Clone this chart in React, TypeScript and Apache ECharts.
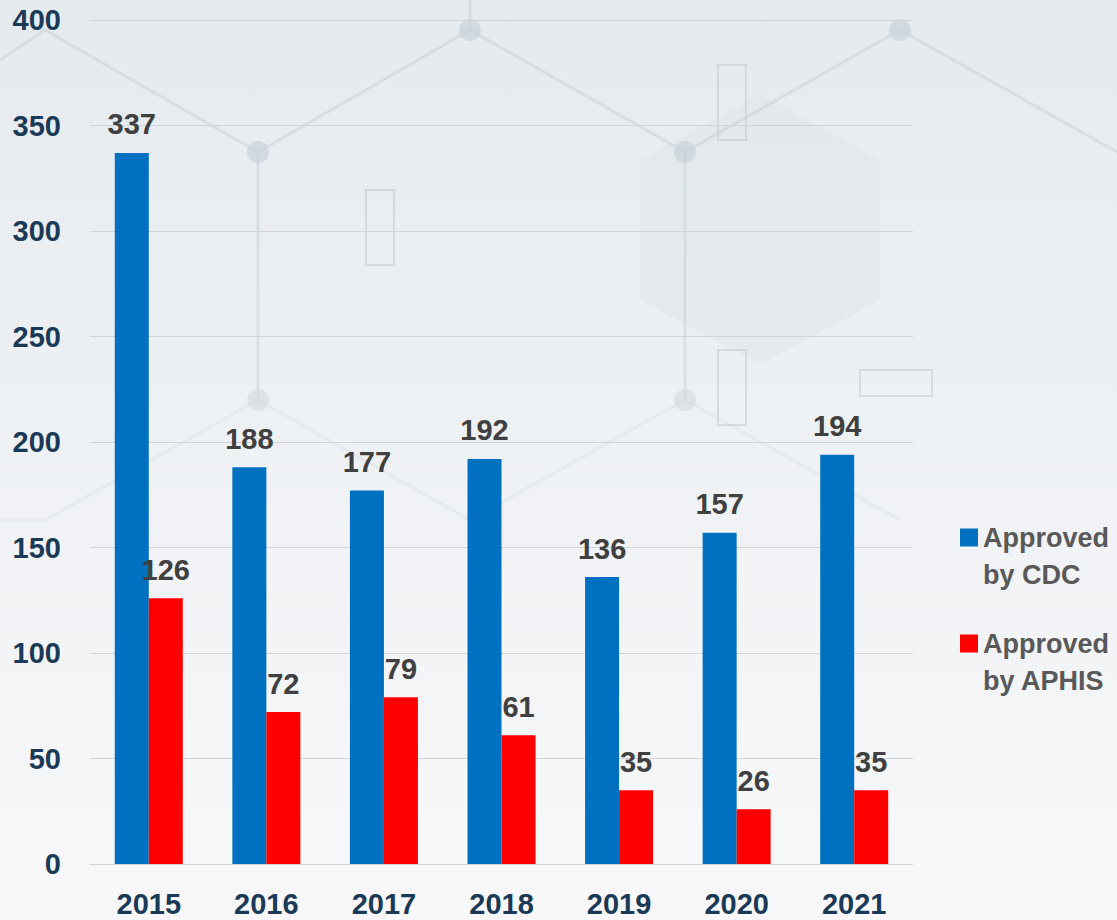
import React, { useEffect, useRef } from "react";
import * as echarts from "echarts";

const categories = ["2015", "2016", "2017", "2018", "2019", "2020", "2021"];
const cdcValues = [337, 188, 177, 192, 136, 157, 194];
const aphisValues = [126, 72, 79, 61, 35, 26, 35];
const seriesNames = ["Approved by CDC", "Approved by APHIS"];

const FONT = "'Liberation Sans', Arial, sans-serif";

export default function App() {
  const ref = useRef<HTMLDivElement>(null);
  useEffect(() => {
    if (!ref.current) return;
    const chart = echarts.init(ref.current, null, { renderer: "svg" });
    const labelStyle = {
      show: true,
      position: "top",
      distance: 14,
      color: "#404040",
      fontSize: 29,
      fontWeight: "bold",
      fontFamily: FONT,
    };
    const deco = { stroke: "#c3cbd2", lineWidth: 3, opacity: 0.45 };
    chart.setOption({
      animation: false,
      backgroundColor: {
        type: "linear",
        x: 0,
        y: 0,
        x2: 0,
        y2: 1,
        colorStops: [
          { offset: 0, color: "#e5eaee" },
          { offset: 0.45, color: "#eef1f4" },
          { offset: 1, color: "#f8f8fa" },
        ],
      },
      graphic: [
        {
          type: "polygon",
          z: -1,
          silent: true,
          shape: { points: [[640, 160], [760, 95], [880, 160], [880, 300], [760, 365], [640, 300]] },
          style: { fill: "#dfe5ea", opacity: 0.55 },
        },
        {
          type: "polyline",
          z: -1,
          silent: true,
          shape: { points: [[0, 60], [45, 30], [258, 152], [470, 30], [685, 152], [900, 30], [1117, 152]] },
          style: { ...deco, fill: null },
        },
        {
          type: "polyline",
          z: -1,
          silent: true,
          shape: { points: [[0, 520], [45, 520], [258, 400], [470, 520], [685, 400], [900, 520]] },
          style: { ...deco, fill: null, opacity: 0.22 },
        },
        { type: "line", z: -1, silent: true, shape: { x1: 258, y1: 152, x2: 258, y2: 400 }, style: deco },
        { type: "line", z: -1, silent: true, shape: { x1: 685, y1: 152, x2: 685, y2: 400 }, style: deco },
        { type: "line", z: -1, silent: true, shape: { x1: 470, y1: 30, x2: 470, y2: 0 }, style: deco },
        { type: "circle", z: -1, silent: true, shape: { cx: 258, cy: 152, r: 11 }, style: { fill: "#c9d1d8", opacity: 0.7 } },
        { type: "circle", z: -1, silent: true, shape: { cx: 685, cy: 152, r: 11 }, style: { fill: "#c9d1d8", opacity: 0.7 } },
        { type: "circle", z: -1, silent: true, shape: { cx: 470, cy: 30, r: 11 }, style: { fill: "#c9d1d8", opacity: 0.7 } },
        { type: "circle", z: -1, silent: true, shape: { cx: 900, cy: 30, r: 11 }, style: { fill: "#c9d1d8", opacity: 0.7 } },
        { type: "circle", z: -1, silent: true, shape: { cx: 258, cy: 400, r: 11 }, style: { fill: "#d3d9de", opacity: 0.6 } },
        { type: "circle", z: -1, silent: true, shape: { cx: 685, cy: 400, r: 11 }, style: { fill: "#d3d9de", opacity: 0.6 } },
        { type: "rect", z: -1, silent: true, shape: { x: 718, y: 65, width: 28, height: 75 }, style: { stroke: "#c3cbd2", lineWidth: 2, fill: null, opacity: 0.6 } },
        { type: "rect", z: -1, silent: true, shape: { x: 366, y: 190, width: 28, height: 75 }, style: { stroke: "#c3cbd2", lineWidth: 2, fill: null, opacity: 0.6 } },
        { type: "rect", z: -1, silent: true, shape: { x: 718, y: 350, width: 28, height: 75 }, style: { stroke: "#c3cbd2", lineWidth: 2, fill: null, opacity: 0.6 } },
        { type: "rect", z: -1, silent: true, shape: { x: 860, y: 370, width: 72, height: 26 }, style: { stroke: "#c3cbd2", lineWidth: 2, fill: null, opacity: 0.6 } },
      ],
      grid: { left: 90, right: 204, top: 20, bottom: 56, containLabel: false },
      legend: {
        orient: "vertical",
        left: 955,
        top: 477,
        itemWidth: 18,
        itemHeight: 18,
        itemGap: -5,
        icon: "rect",
        data: seriesNames,
        formatter: (name: string) => "\n" + name.replace(" by", "\nby"),
        textStyle: {
          color: "#595959",
          fontSize: 27,
          fontWeight: "bold",
          fontFamily: FONT,
          lineHeight: 37,
        },
      },
      xAxis: {
        type: "category",
        data: categories,
        axisLine: { show: true, lineStyle: { color: "#d4d4d4", width: 1 } },
        axisTick: { show: false },
        axisLabel: {
          color: "#1b3a57",
          fontSize: 29,
          fontWeight: "bold",
          fontFamily: FONT,
          margin: 25,
        },
      },
      yAxis: {
        type: "value",
        min: 0,
        max: 400,
        interval: 50,
        axisLine: { show: false },
        axisTick: { show: false },
        splitLine: { lineStyle: { color: "#d4d4d4", width: 1 } },
        axisLabel: {
          color: "#1b3a57",
          fontSize: 29,
          fontWeight: "bold",
          fontFamily: FONT,
          margin: 29,
        },
      },
      series: [
        {
          name: seriesNames[0],
          type: "bar",
          data: cdcValues,
          barWidth: 34,
          barGap: "0%",
          itemStyle: { color: "#0070c0" },
          label: labelStyle,
        },
        {
          name: seriesNames[1],
          type: "bar",
          data: aphisValues,
          barWidth: 34,
          barGap: "0%",
          itemStyle: { color: "#ff0000" },
          label: labelStyle,
        },
      ],
    });
    return () => chart.dispose();
  }, []);
  return (
    <div
      ref={ref}
      style={{ position: "absolute", left: 0, top: 0, width: 1117, height: 920 }}
    />
  );
}
